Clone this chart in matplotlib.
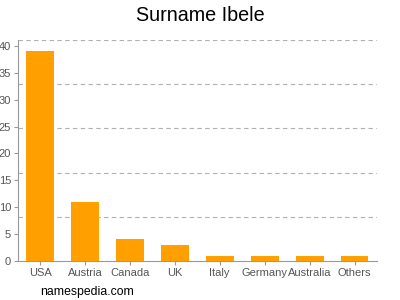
import matplotlib
matplotlib.use("Agg")
import matplotlib.pyplot as plt
import numpy as np

plt.rcParams['font.family'] = ['Liberation Sans', 'DejaVu Sans']

categories = ["USA", "Austria", "Canada", "UK", "Italy", "Germany", "Australia", "Others"]
values = [39, 11, 4, 3, 1, 1, 1, 1]
yticks = [0, 5, 10, 15, 20, 25, 30, 35, 40]
ymax = 41.1

fig = plt.figure(figsize=(4, 3), dpi=100)
ax = fig.add_axes([0.045, 0.13, 0.8975, 0.7367])
x = np.arange(len(categories))
ax.bar(x, values, width=0.62, color="#ffa000", zorder=3)
ax.set_xlim(-0.49, 7.5)
ax.set_ylim(0, ymax)
for k in range(1, 6):
    ax.axhline(ymax * k / 5, color="#b0b0b0", linestyle=(0, (4, 3)), linewidth=0.8, zorder=1)
ax.set_xticks(x)
ax.set_xticklabels(categories)
ax.set_yticks(yticks)
for s in ["top", "right"]:
    ax.spines[s].set_visible(False)
for s in ["left", "bottom"]:
    ax.spines[s].set_color("#999999")
    ax.spines[s].set_linewidth(0.8)
ax.tick_params(axis="both", colors="#999999", labelcolor="#555555", labelsize=8, length=3, width=0.8, pad=2)
fig.text(0.5, 0.948, "Surname Ibele", ha="center", va="center", fontsize=14.2, color="#000000")
fig.text(0.1, 0.028, "namespedia.com", ha="left", va="center", fontsize=8.8, color="#000000")
fig.savefig("out.png", dpi=100)
